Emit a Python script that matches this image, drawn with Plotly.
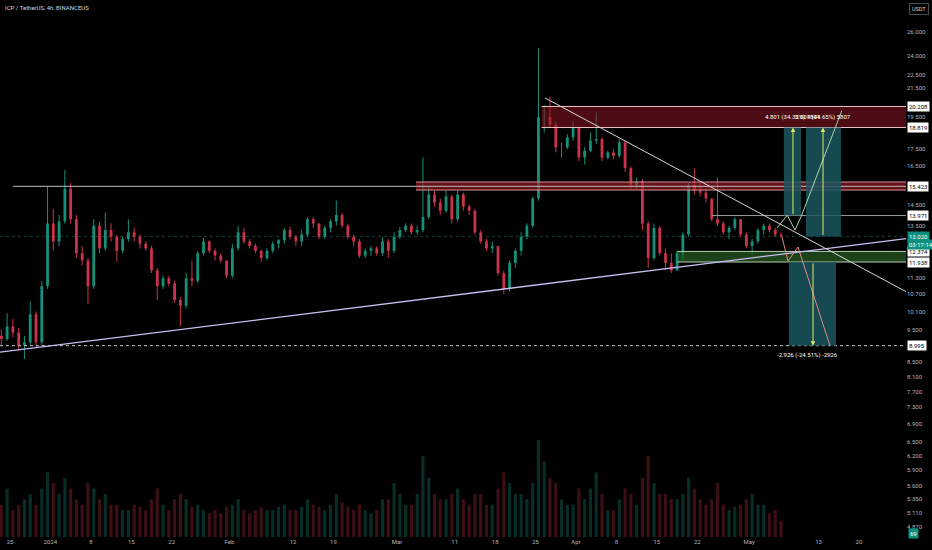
import math
import pandas as pd
import plotly.graph_objects as go

# ---------------- data (daily candles) ----------------
dates = pd.date_range("2023-12-23 12:00", periods=136, freq="D")

opens = [9.30, 9.20, 9.60, 9.40, 9.00, 9.10, 10.00, 9.10, 11.00,
         13.60, 12.80, 13.70, 15.30, 13.80, 12.30, 12.00, 11.00, 13.50, 12.50, 13.30, 13.00, 12.40,
         12.90, 13.20, 13.00, 12.70, 12.50, 11.60, 11.00, 11.30, 11.10, 10.50, 10.30, 11.30, 11.20,
         12.30, 12.80, 12.40, 12.20, 12.00,
         11.40, 12.50, 13.20, 12.80, 12.60, 12.40, 12.10, 12.40, 12.70, 12.85, 13.30, 13.00, 12.80,
         13.10, 13.80, 13.60, 13.00, 13.40, 13.70, 14.00, 13.50, 13.00, 12.80, 12.20, 12.40, 12.50,
         12.30, 12.80, 12.40,
         13.00, 13.30, 13.50, 13.20, 13.30, 13.90, 15.00, 14.60, 14.20, 14.90, 13.80, 15.00, 14.40,
         14.20, 13.20, 12.80, 12.50, 12.60, 11.50, 10.90, 11.90, 12.40, 13.00, 13.50, 14.80, 19.50,
         19.50, 19.00, 17.60, 17.60, 18.20,
         18.80, 17.00, 17.40, 18.00, 18.10, 17.00, 17.30, 17.10, 17.90, 16.40, 15.50, 15.70, 13.60,
         12.10, 13.40, 12.30, 11.90, 11.60, 12.30, 13.10, 15.50, 15.20, 15.10, 14.80, 13.80, 13.60,
         13.20, 13.40, 13.80, 13.10,
         12.60, 12.80, 13.30, 13.50, 13.30, 13.10]
highs = [9.50, 10.05, 9.85, 9.55, 9.30, 10.45, 10.10, 11.20, 15.40,
         14.30, 14.00, 16.30, 15.60, 14.00, 12.60, 12.10, 13.80, 13.70, 14.10, 13.60, 13.10, 13.00,
         13.80, 13.40, 13.10, 12.80, 12.60, 11.70, 11.40, 11.40, 11.20, 10.60, 11.50, 12.00, 12.40,
         12.95, 12.85, 12.50, 12.30, 12.00,
         12.70, 13.50, 13.40, 12.90, 12.70, 12.45, 12.50, 12.80, 12.90, 13.40, 13.45, 13.10, 13.30,
         13.90, 13.90, 13.60, 13.50, 13.80, 14.70, 14.10, 13.60, 13.10, 12.90, 12.50, 12.60, 12.60,
         13.00, 12.90, 13.20,
         13.45, 13.60, 13.60, 13.50, 17.00, 15.40, 15.20, 14.80, 15.20, 15.00, 15.20, 15.10, 14.50,
         14.30, 13.30, 12.90, 12.80, 12.60, 11.60, 12.00, 12.50, 13.20, 13.60, 14.90, 24.60, 20.30,
         20.90, 19.20, 17.90, 18.40, 19.20,
         18.90, 17.60, 18.50, 19.80, 18.20, 17.40, 17.50, 18.10, 18.00, 16.50, 15.90, 15.80, 13.70,
         13.60, 13.50, 12.50, 12.30, 12.40, 13.20, 15.60, 16.40, 15.60, 15.30, 14.80, 15.90, 13.70,
         13.50, 13.90, 13.80, 13.20,
         12.90, 13.40, 13.60, 13.60, 13.40, 13.20]
lows = [9.00, 9.15, 9.25, 8.85, 8.60, 9.00, 8.95, 9.00, 10.90,
        12.40, 12.60, 13.60, 13.60, 12.10, 11.80, 10.35, 10.90, 12.30, 12.40, 12.80, 11.95, 12.30,
        12.80, 12.80, 12.50, 12.40, 11.50, 10.50, 10.90, 11.00, 10.40, 9.60, 10.20, 11.00, 11.10,
        12.20, 12.30, 12.00, 11.90, 11.30,
        11.30, 12.40, 12.70, 12.50, 12.30, 11.95, 12.00, 12.30, 12.50, 12.70, 12.90, 12.60, 12.60,
        13.00, 13.40, 12.90, 12.90, 13.20, 13.50, 13.40, 12.90, 12.60, 12.10, 12.10, 12.20, 12.20,
        12.20, 12.10, 12.30,
        12.90, 13.20, 13.10, 13.10, 13.20, 13.80, 14.40, 14.00, 14.10, 13.60, 13.70, 14.20, 14.00,
        13.10, 12.70, 12.40, 12.30, 11.40, 10.70, 10.80, 11.70, 12.20, 12.90, 13.40, 14.70, 18.50,
        18.80, 17.30, 17.00, 17.50, 18.00,
        16.80, 16.60, 17.30, 17.80, 16.80, 16.90, 16.90, 17.00, 16.20, 15.30, 15.30, 13.30, 11.70,
        12.00, 12.20, 11.60, 11.50, 11.60, 12.00, 13.00, 15.00, 14.90, 14.60, 13.70, 13.50, 13.10,
        12.90, 13.30, 13.00, 12.50,
        12.25, 12.70, 13.10, 13.20, 13.00, 12.95]
closes = [9.20, 9.60, 9.40, 9.00, 9.10, 10.00, 9.10, 11.00, 13.60,
          12.80, 13.70, 15.30, 13.80, 12.30, 12.00, 11.00, 13.50, 12.50, 13.30, 13.00, 12.40, 12.90,
          13.20, 13.00, 12.70, 12.50, 11.60, 11.00, 11.30, 11.10, 10.50, 10.30, 11.30, 11.20, 12.30,
          12.80, 12.40, 12.20, 12.00, 11.40,
          12.50, 13.20, 12.80, 12.60, 12.40, 12.10, 12.40, 12.70, 12.85, 13.30, 13.00, 12.80, 13.10,
          13.80, 13.60, 13.00, 13.40, 13.70, 14.00, 13.50, 13.00, 12.80, 12.20, 12.40, 12.50, 12.30,
          12.80, 12.40, 13.00,
          13.30, 13.50, 13.20, 13.30, 13.90, 15.00, 14.60, 14.20, 14.90, 13.80, 15.00, 14.40, 14.20,
          13.20, 12.80, 12.50, 12.60, 11.50, 10.90, 11.90, 12.40, 13.00, 13.50, 14.80, 19.50, 19.50,
          19.00, 17.60, 17.60, 18.20, 18.80,
          17.00, 17.40, 18.00, 18.10, 17.00, 17.30, 17.10, 17.90, 16.40, 15.50, 15.70, 13.60, 12.10,
          13.40, 12.30, 11.90, 11.60, 12.30, 13.10, 15.50, 15.20, 15.10, 14.80, 13.80, 13.60, 13.20,
          13.40, 13.80, 13.10, 12.60,
          12.80, 13.30, 13.50, 13.30, 13.10, 13.02]
volumes = [30, 45, 25, 30, 35, 40, 30,
           45, 60, 50, 40, 55, 45, 35,
           30, 50, 45, 35, 40, 30, 30,
           25, 25, 30, 28, 25, 35, 45,
           30, 25, 35, 40, 35, 28, 30,
           25, 22, 25, 22, 28, 30, 35,
           25, 22, 25, 28, 25, 25, 28,
           30, 25, 25, 28, 35, 30, 28,
           25, 30, 40, 32, 28, 25, 30,
           25, 22, 25, 35, 35, 50, 40,
           30, 30, 40, 75, 55, 40, 35,
           35, 40, 45, 35, 30, 40, 40,
           30, 30, 45, 60, 50, 40, 40,
           35, 50, 90, 70, 55, 50, 35,
           30, 30, 45, 35, 45, 60, 40,
           25, 25, 35, 45, 40, 30, 55,
           75, 50, 40, 40, 35, 35, 40,
           55, 45, 35, 30, 35, 50, 30,
           25, 28, 30, 35, 40, 30, 30,
           22, 25, 15]

x_ticks = ["2023-12-25", "2024-01-01", "2024-01-08", "2024-01-15", "2024-01-22", "2024-02-01",
           "2024-02-12", "2024-02-19", "2024-03-01", "2024-03-11", "2024-03-18", "2024-03-25",
           "2024-04-01", "2024-04-08", "2024-04-15", "2024-04-22", "2024-05-01", "2024-05-13",
           "2024-05-20"]
x_ticktext = ["25", "2024", "8", "15", "22", "Feb", "12", "19", "Mar", "11", "18", "25",
              "Apr", "8", "15", "22", "May", "13", "20"]
y_ticks = [26.0, 24.0, 22.5, 21.5, 19.5, 17.5, 16.5, 14.5, 13.5, 11.3, 10.7, 10.1,
           9.5, 8.5, 8.1, 7.7, 7.3, 6.9, 6.5, 6.2, 5.9, 5.6, 5.35, 5.11, 4.87]

# drawn levels / tools
level_labels = [20.208, 18.819, 15.423, 13.971, 12.374, 11.938, 8.995]
last_price = 13.020
last_volume = "69"
zone_top = (18.819, 20.208, "2024-03-26 01:00")
band_mid = (15.23, 15.65, "2024-03-04 07:00")
zone_green = (11.938, 12.374, "2024-04-18 12:00")
line_1542 = (15.423, "2023-12-25 12:30")
line_1397 = (13.971, "2024-04-24 13:00")
line_899 = 8.995
asc_line = (["2023-12-23 06:27", "2024-05-28 03:20"], [8.80, 12.92])
desc_line = (["2024-03-26 15:00", "2024-05-28 03:20"], [20.80, 10.80])
box_a = ("2024-05-07 00:00", "2024-05-09 23:00", 13.971, 18.819)
box_b = ("2024-05-10 19:40", "2024-05-16 21:00", 13.02, 18.819)
box_c = ("2024-05-07 21:00", "2024-05-16 00:30", 8.995, 11.938)
arrow_a = ("2024-05-08 13:40", 13.971, 18.819)
arrow_b = ("2024-05-13 18:30", 13.02, 18.819)
arrow_c = ("2024-05-12 01:00", 11.938, 8.995)
path_up = (["2024-05-05 19:00", "2024-05-07 14:00", "2024-05-08 22:00", "2024-05-10 02:00",
            "2024-05-17 00:00"], [13.39, 13.99, 13.30, 13.99, 19.90])
path_dn = (["2024-05-06 16:00", "2024-05-07 17:00", "2024-05-09 10:30", "2024-05-14 23:30"],
           [12.99, 11.98, 12.56, 8.99])
txt_a = ("2024-05-08 13:40", 19.50, "4.801 (34.32%) 4801")
txt_b = ("2024-05-13 18:30", 19.50, "5.807 (44.65%) 5807")
txt_c = ("2024-05-11 04:00", 8.72, "-2.926 (-24.51%) -2926")

X_LEFT, X_RIGHT = "2023-12-23 06:27", "2024-05-28 03:20"
Y_RANGE = [0.6728, 1.4620]

GREEN = "#169079"
RED = "#c9344a"
AXIS_TXT = "#b2b5be"
FONT = "Roboto"

fig = go.Figure()

# volume
vcol = ["rgba(22,130,110,0.34)" if c >= o else "rgba(175,45,62,0.34)" for o, c in zip(opens, closes)]
fig.add_trace(go.Bar(x=dates, y=volumes, marker=dict(color=vcol, line=dict(width=0)),
                     width=0.55 * 86400000, yaxis="y2", hoverinfo="skip"))


def segs(xs, a, b):
    X, Y = [], []
    for x, p, q in zip(xs, a, b):
        X += [x, x, None]
        Y += [p, q, None]
    return X, Y


def rect(x0, x1, y0, y1, fill, line_color=None, lw=0):
    fig.add_trace(go.Scatter(x=[x0, x1, x1, x0, x0], y=[y0, y0, y1, y1, y0], mode="lines",
                             fill="toself", fillcolor=fill,
                             line=dict(width=lw, color=line_color or fill), hoverinfo="skip"))


def hline(x0, x1, y, color, width=1, dash="solid"):
    fig.add_trace(go.Scatter(x=[x0, x1], y=[y, y], mode="lines",
                             line=dict(color=color, width=width, dash=dash), hoverinfo="skip"))


# faint current price line
hline(X_LEFT, X_RIGHT, last_price, "#1d3b38", 1, "dot")

# candles
for up, col in ((True, GREEN), (False, RED)):
    idx = [i for i in range(len(dates)) if (closes[i] >= opens[i]) == up]
    xs = [dates[i] for i in idx]
    wx, wy = segs(xs, [lows[i] for i in idx], [highs[i] for i in idx])
    fig.add_trace(go.Scatter(x=wx, y=wy, mode="lines", line=dict(color=col, width=1),
                             hoverinfo="skip"))
    bx, by = segs(xs, [opens[i] for i in idx], [closes[i] for i in idx])
    fig.add_trace(go.Scatter(x=bx, y=by, mode="lines", line=dict(color=col, width=2.8),
                             hoverinfo="skip"))

# zones
rect(zone_top[2], X_RIGHT, zone_top[0], zone_top[1], "rgba(140,22,34,0.55)")
hline(zone_top[2], X_RIGHT, zone_top[0], "#e9c3c6", 1)
hline(zone_top[2], X_RIGHT, zone_top[1], "#e9c3c6", 1)
rect(band_mid[2], X_RIGHT, band_mid[0], band_mid[1], "rgba(170,30,45,0.6)")
hline(band_mid[2], X_RIGHT, band_mid[0], "#d88a93", 1)
hline(band_mid[2], X_RIGHT, band_mid[1], "#d88a93", 1)
hline(line_1542[1], X_RIGHT, line_1542[0], "#bdbdbd", 1)
rect(zone_green[2], X_RIGHT, zone_green[0], zone_green[1], "rgba(45,110,40,0.6)")
hline(zone_green[2], X_RIGHT, zone_green[0], "#b9cdb3", 1)
hline(zone_green[2], X_RIGHT, zone_green[1], "#b9cdb3", 1)
hline(line_1397[1], X_RIGHT, line_1397[0], "#9a9a9a", 1)
hline(X_LEFT, X_RIGHT, line_899, "#c8c8c8", 1, "dot")

# position boxes
for bx in (box_a, box_b, box_c):
    rect(bx[0], bx[1], bx[2], bx[3], "rgba(26,86,94,0.85)")

# trend lines
fig.add_trace(go.Scatter(x=asc_line[0], y=asc_line[1], mode="lines",
                         line=dict(color="#c7bdf2", width=1.3), hoverinfo="skip"))
fig.add_trace(go.Scatter(x=desc_line[0], y=desc_line[1], mode="lines",
                         line=dict(color="#d6d6dc", width=1), hoverinfo="skip"))

# projected paths
fig.add_trace(go.Scatter(x=path_up[0], y=path_up[1], mode="lines",
                         line=dict(color="#a8d8b0", width=1), hoverinfo="skip"))
fig.add_trace(go.Scatter(x=path_dn[0], y=path_dn[1], mode="lines",
                         line=dict(color="#e08a8a", width=1), hoverinfo="skip"))

ann = []
for ar in (arrow_a, arrow_b, arrow_c):
    ann.append(dict(x=ar[0], y=math.log10(ar[2]), ax=ar[0], ay=math.log10(ar[1]),
                    xref="x", yref="y", axref="x", ayref="y", text="", showarrow=True,
                    arrowhead=2, arrowsize=0.9, arrowwidth=1, arrowcolor="#e3e86a"))
for t in (txt_a, txt_b, txt_c):
    ann.append(dict(x=t[0], y=math.log10(t[1]), xref="x", yref="y", text=t[2], showarrow=False,
                    font=dict(family=FONT, size=6, color="#ffffff"), xanchor="center"))

for v in level_labels:
    ann.append(dict(x=1, xref="paper", xanchor="left", xshift=1, y=math.log10(v), yref="y",
                    yanchor="middle", text=f"{v:.3f}", showarrow=False, bgcolor="#ffffff",
                    borderpad=1, font=dict(family=FONT, size=6, color="#000000")))
ann.append(dict(x=1, xref="paper", xanchor="left", xshift=1, y=math.log10(last_price), yref="y",
                yanchor="middle", text=f"{last_price:.3f}", showarrow=False, bgcolor="#0c8f7b",
                borderpad=1, font=dict(family=FONT, size=6, color="#ffffff")))
ann.append(dict(x=1, xref="paper", xanchor="left", xshift=1, y=math.log10(last_price), yref="y",
                yanchor="middle", yshift=-8, text="03:17:14", showarrow=False, bgcolor="#0c8f7b",
                borderpad=1, font=dict(family=FONT, size=6, color="#ffffff")))
ann.append(dict(x=1, xref="paper", xanchor="left", xshift=2, y=0.006, yref="paper",
                yanchor="middle", text=last_volume, showarrow=False, bgcolor="#0c8f7b",
                borderpad=1, font=dict(family=FONT, size=6, color="#ffffff")))
ann.append(dict(x=0, xref="paper", xanchor="left", xshift=3, y=1, yref="paper", yanchor="top",
                yshift=-2, text="ICP / TetherUS, 4h, BINANCEUS", showarrow=False,
                font=dict(family=FONT, size=6, color="#d1d4dc")))
ann.append(dict(x=1, xref="paper", xanchor="left", xshift=3, y=1, yref="paper", yanchor="top",
                yshift=-3, text="USDT", showarrow=False, bordercolor="#4a4d55", borderwidth=1,
                borderpad=2, bgcolor="#000000", font=dict(family=FONT, size=5.5, color="#d1d4dc")))

fig.update_layout(
    template="none",
    width=932, height=550,
    margin=dict(l=0, r=26, t=0, b=13),
    paper_bgcolor="#000000", plot_bgcolor="#000000",
    showlegend=False,
    hovermode=False,
    annotations=ann,
    xaxis=dict(type="date", range=[X_LEFT, X_RIGHT], tickvals=x_ticks, ticktext=x_ticktext,
               showgrid=False, zeroline=False, showline=False, ticks="", automargin=False,
               tickfont=dict(family=FONT, size=6, color=AXIS_TXT)),
    yaxis=dict(type="log", range=Y_RANGE, side="right", tickvals=y_ticks,
               ticktext=[f"{v:.3f}" for v in y_ticks], showgrid=False, zeroline=False,
               showline=False, ticks="", automargin=False,
               tickfont=dict(family=FONT, size=6, color=AXIS_TXT)),
    yaxis2=dict(overlaying="y", range=[0, 498], visible=False, fixedrange=True),
)

fig.write_html("out.html", config={"displayModeBar": False},
               post_script="document.body.style.margin='0';document.body.style.background='#000';")
